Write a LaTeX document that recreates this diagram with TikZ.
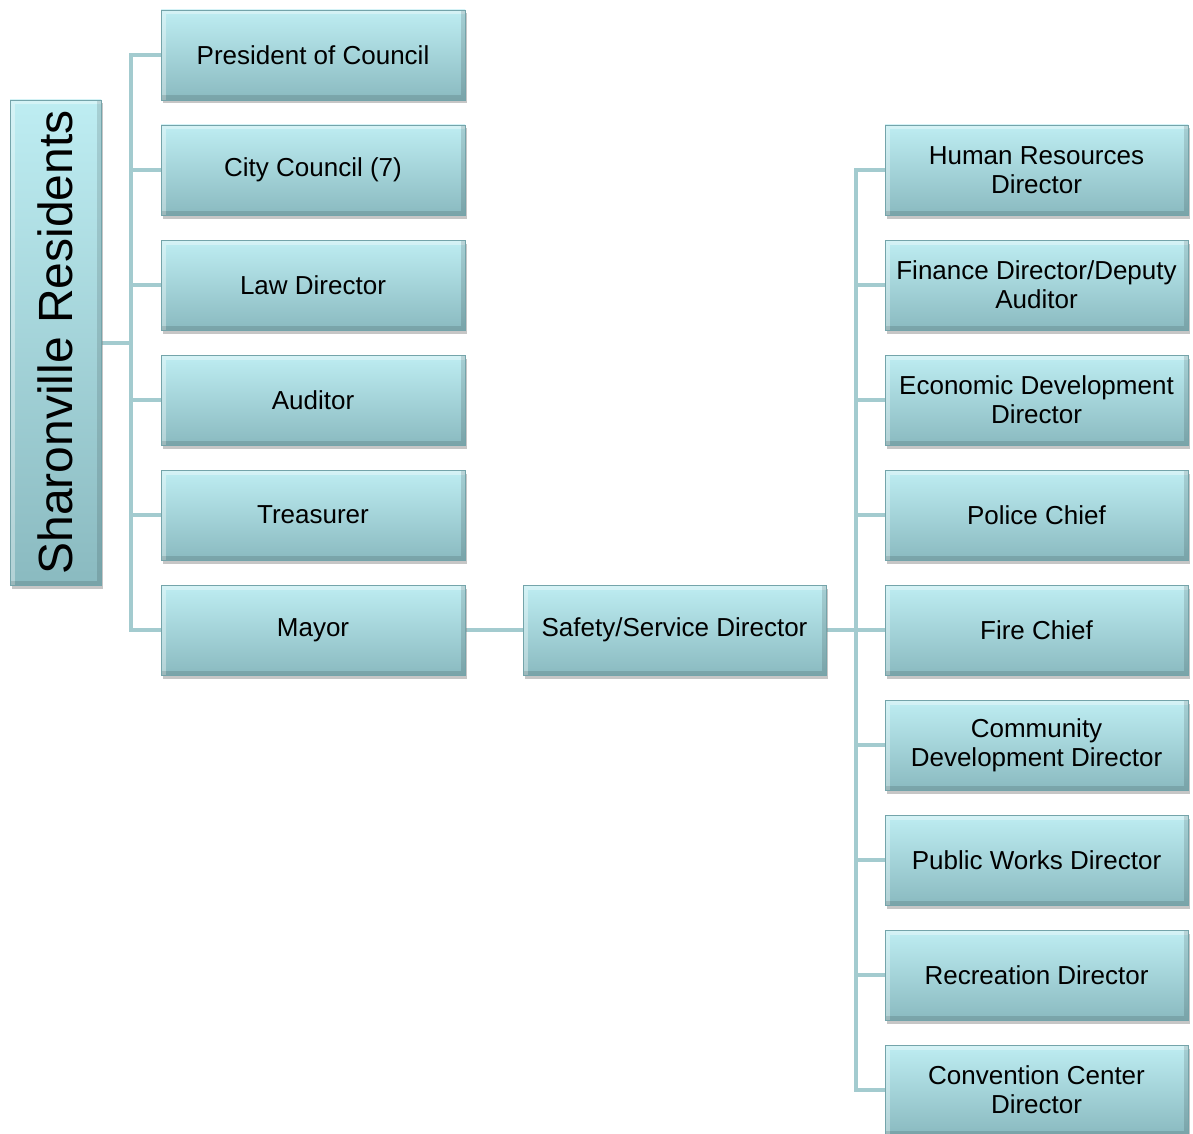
\documentclass[tikz,border=0pt]{standalone}
\usepackage{fontspec}
\setmainfont{Liberation Sans}
\usetikzlibrary{shadows,backgrounds}

\definecolor{boxtop}{RGB}{190,237,242}
\definecolor{boxbot}{RGB}{138,186,192}
\definecolor{boxedge}{RGB}{116,164,170}
\definecolor{linkcol}{RGB}{163,203,207}

\tikzset{
  post/.style={draw=boxedge, line width=0.8pt, top color=boxtop, bottom color=boxbot,
    minimum width=304pt, minimum height=90pt, inner sep=0pt, align=center,
    font=\fontsize{26}{29}\selectfont,
    drop shadow={shadow xshift=2pt, shadow yshift=-3.5pt, opacity=0.45},
    path picture={
      % bevel: light top/left edge, dark bottom/right edge
      \draw[white, opacity=0.35, line width=9pt]
        (path picture bounding box.south west) -- (path picture bounding box.north west)
        -- (path picture bounding box.north east);
      \draw[black, opacity=0.12, line width=9pt]
        (path picture bounding box.north east) -- (path picture bounding box.south east)
        -- (path picture bounding box.south west);
    }},
  link/.style={draw=linkcol, line width=4pt},
}

\begin{document}
\begin{tikzpicture}[x=1pt,y=-1pt]
	\useasboundingbox (0,0) rectangle (1193,1134);

	% residents
	\node[post, minimum width=91pt, minimum height=485pt] (res) at (55.5,342.5)
		{\rotatebox{90}{\fontsize{48}{50}\selectfont Sharonville Residents}};

	% elected offices
	\node[post] (pres)      at (313,55)  {President of Council};
	\node[post] (council)   at (313,170) {City Council (7)};
	\node[post] (law)       at (313,285) {Law Director};
	\node[post] (auditor)   at (313,400) {Auditor};
	\node[post] (treasurer) at (313,515) {Treasurer};
	\node[post] (mayor)     at (313,630) {Mayor};

	\node[post, minimum width=303pt] (safety) at (674.5,630) {Safety/Service Director};

	% departments
	\node[post, minimum width=303pt] (hr)        at (1036.5,170)  {Human Resources\\Director};
	\node[post, minimum width=303pt] (finance)   at (1036.5,285)  {Finance Director/Deputy\\Auditor};
	\node[post, minimum width=303pt] (econ)      at (1036.5,400)  {Economic Development\\Director};
	\node[post, minimum width=303pt] (police)    at (1036.5,515)  {Police Chief};
	\node[post, minimum width=303pt] (fire)      at (1036.5,630)  {Fire Chief};
	\node[post, minimum width=303pt] (community) at (1036.5,745)  {Community\\Development Director};
	\node[post, minimum width=303pt] (works)     at (1036.5,860)  {Public Works Director};
	\node[post, minimum width=303pt] (rec)       at (1036.5,975)  {Recreation Director};
	\node[post, minimum width=303pt] (conv)      at (1036.5,1090) {Convention Center\\Director};

	\begin{scope}[on background layer]
		\foreach \n in {pres,council,law,auditor,treasurer,mayor}
			\draw[link] (res.east) -- ++(30,0) |- (\n.west);
		\draw[link] (mayor) -- (safety);
		\foreach \n in {hr,finance,econ,police,fire,community,works,rec,conv}
			\draw[link] (safety.east) -- ++(30,0) |- (\n.west);
	\end{scope}
\end{tikzpicture}
\end{document}
